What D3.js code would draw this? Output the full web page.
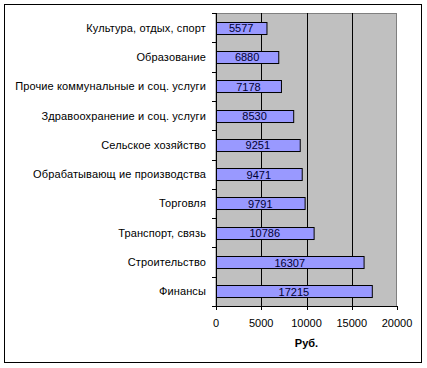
<!DOCTYPE html>
<html>
<head>
<meta charset="utf-8">
<script src="https://cdn.jsdelivr.net/npm/d3@7"></script>
<style>
  body { margin: 0; background: #fff; }
  svg { display: block; font-family: "Liberation Sans", Arial, sans-serif; }
</style>
</head>
<body>
<svg id="chart" width="427" height="368"></svg>
<script>
const categories = [
  'Культура, отдых, спорт',
  'Образование',
  'Прочие коммунальные и соц. услуги',
  'Здравоохранение и соц. услуги',
  'Сельское хозяйство',
  'Обрабатывающ ие производства',
  'Торговля',
  'Транспорт, связь',
  'Строительство',
  'Финансы'
];
const values = [5577, 6880, 7178, 8530, 9251, 9471, 9791, 10786, 16307, 17215];
const xTicks = [0, 5000, 10000, 15000, 20000];
const xTitle = 'Руб.';

const svg = d3.select('#chart');
const margin = { top: 13, right: 30, bottom: 62, left: 216 };
const width = 427 - margin.left - margin.right;
const height = 368 - margin.top - margin.bottom;

// outer frame
svg.append('rect')
  .attr('x', 4.5).attr('y', 4.5)
  .attr('width', 417).attr('height', 358)
  .attr('fill', '#fff').attr('stroke', '#000').attr('stroke-width', 1);

const g = svg.append('g').attr('transform', `translate(${margin.left},${margin.top})`);

const x = d3.scaleLinear().domain([0, 20000]).range([0, width]);
const y = d3.scaleBand().domain(categories).range([0, height]).paddingInner(0.59).paddingOuter(0.295);

// plot area
g.append('rect')
  .attr('x', 0).attr('y', 0.5)
  .attr('width', width - 0.5).attr('height', height)
  .attr('fill', '#c0c0c0').attr('stroke', '#808080');

// gridlines
g.selectAll('.grid')
  .data(xTicks.filter(d => d > 0 && d < 20000))
  .enter().append('line')
  .attr('x1', d => Math.round(x(d)) + 0.5).attr('x2', d => Math.round(x(d)) + 0.5)
  .attr('y1', 0).attr('y2', height)
  .attr('stroke', '#000');

// bars
g.selectAll('.bar')
  .data(values)
  .enter().append('rect')
  .attr('x', 0.5)
  .attr('y', (d, i) => Math.round(y(categories[i])) + 0.5)
  .attr('width', d => x(d))
  .attr('height', y.bandwidth())
  .attr('fill', '#9999ff')
  .attr('stroke', '#000');

// value labels
g.selectAll('.val')
  .data(values)
  .enter().append('text')
  .attr('x', d => x(d) / 2)
  .attr('y', (d, i) => y(categories[i]) + y.bandwidth() / 2 + 4.5)
  .attr('text-anchor', 'middle')
  .attr('font-size', 11)
  .attr('fill', '#000033')
  .text(d => d);

// y axis
const step = height / categories.length;
g.append('line')
  .attr('x1', 0.5).attr('x2', 0.5).attr('y1', 0).attr('y2', height + 0.5)
  .attr('stroke', '#000');
g.selectAll('.ytick')
  .data(d3.range(categories.length + 1))
  .enter().append('line')
  .attr('x1', -4).attr('x2', 0.5)
  .attr('y1', i => Math.round(i * step) + 0.5).attr('y2', i => Math.round(i * step) + 0.5)
  .attr('stroke', '#000');
g.selectAll('.ylab')
  .data(categories)
  .enter().append('text')
  .attr('x', -10)
  .attr('y', d => y(d) + y.bandwidth() / 2 + 4)
  .attr('text-anchor', 'end')
  .attr('font-size', 11)
  .attr('letter-spacing', 0.13)
  .attr('fill', '#000')
  .text(d => d);

// x axis
g.append('line')
  .attr('x1', 0).attr('x2', width).attr('y1', height + 0.5).attr('y2', height + 0.5)
  .attr('stroke', '#000');
g.selectAll('.xtick')
  .data(xTicks)
  .enter().append('line')
  .attr('x1', d => Math.round(x(d)) + 0.5).attr('x2', d => Math.round(x(d)) + 0.5)
  .attr('y1', height).attr('y2', height + 4)
  .attr('stroke', '#000');
g.selectAll('.xlab')
  .data(xTicks)
  .enter().append('text')
  .attr('x', d => x(d))
  .attr('y', height + 21)
  .attr('text-anchor', 'middle')
  .attr('font-size', 11)
  .attr('fill', '#000')
  .text(d => d);

g.append('text')
  .attr('x', width / 2)
  .attr('y', height + 41)
  .attr('text-anchor', 'middle')
  .attr('font-size', 11)
  .attr('font-weight', 'bold')
  .text(xTitle);
</script>
</body>
</html>
